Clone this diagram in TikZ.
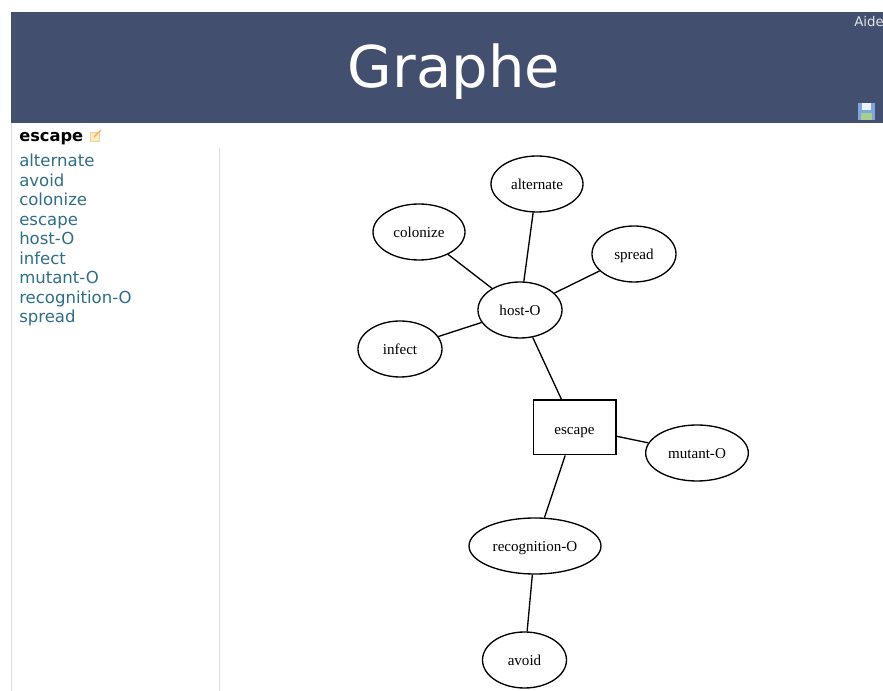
\documentclass[tikz,border=0pt]{standalone}
\usepackage{fontspec}
\setmainfont{Liberation Serif}
\newfontfamily\pagefont{DejaVu Sans}
\usetikzlibrary{shapes.geometric}
\usetikzlibrary{calc,positioning}
\definecolor{bannerblue}{HTML}{434F6E}
\definecolor{linkblue}{HTML}{2F6E8A}
\definecolor{panelgrey}{HTML}{D9DCE0}
\definecolor{diskblue}{HTML}{7FA6DC}
\definecolor{diskgreen}{HTML}{A9CF8E}
\definecolor{editorange}{HTML}{F3D48C}
\tikzset{
    wordnode/.style={draw, ellipse, line width=1pt, minimum height=42pt, inner sep=0pt, text height=11pt, text depth=2pt, font=\fontsize{11.3}{12}\selectfont},
    rootnode/.style={draw, rectangle, line width=1pt, minimum width=62pt, minimum height=41pt, inner sep=0pt, text height=13pt, text depth=2pt, font=\fontsize{11.3}{12}\selectfont},
    linknode/.style={anchor=base west, inner sep=0pt, text=linkblue, font=\pagefont\fontsize{12.4}{14}\selectfont},
    edgeline/.style={line width=1pt}
}
\begin{document}
\begin{tikzpicture}[x=0.75pt,y=-0.75pt]
        \useasboundingbox (0,0) rectangle (883,691);
        \fill[white] (0,0) rectangle (883,691);

        % banner
        \fill[bannerblue] (11,12) rectangle (883,123);
        \node[text=white, font=\pagefont\fontsize{43.2}{50}\selectfont] (title) at (454,72) {Graphe};
        \node[anchor=base west, inner sep=0pt, text=white!85!bannerblue, font=\pagefont\fontsize{10}{12}\selectfont] (help) at (854,27) {Aide};

        % save icon
        \fill[diskblue] (858,103) rectangle (875,120);
        \fill[white!85!diskblue] (862,103) rectangle (871,110);
        \fill[diskgreen] (861,113) rectangle (872,120);

        % side panel
        \draw[panelgrey] (11,123) -- (11,691);
        \draw[panelgrey] (219,148) -- (219,691);
        \node[anchor=base west, inner sep=0pt, font=\pagefont\bfseries\fontsize{12.2}{14}\selectfont] (current) at (19,142) {escape};
        \fill[editorange!45!white] (90,132) rectangle (99,141);
        \draw[editorange, line width=0.7pt] (90,132) rectangle (99,141);
        \draw[orange!70!white, line width=0.9pt] (94,137) -- (101,130);

        \node[linknode] (alternateLink) at (19,167) {alternate};
        \node[linknode] (avoidLink) at (19,186.5) {avoid};
        \node[linknode] (colonizeLink) at (19,206) {colonize};
        \node[linknode] (escapeLink) at (19,225.5) {escape};
        \node[linknode] (hostLink) at (19,245) {host-O};
        \node[linknode] (infectLink) at (19,264.5) {infect};
        \node[linknode] (mutantLink) at (19,284) {mutant-O};
        \node[linknode] (recognitionLink) at (19,303.5) {recognition-O};
        \node[linknode] (spreadLink) at (19,323) {spread};

        % graph
        \node[wordnode, minimum width=69pt] (alternate) at (537,184) {alternate};
        \node[wordnode, minimum width=69pt] (colonize) at (419,232) {colonize};
        \node[wordnode, minimum width=63pt] (spread) at (634,254) {spread};
        \node[wordnode, minimum width=63pt] (host) at (520,310) {host-O};
        \node[wordnode, minimum width=63pt] (infect) at (400,349) {infect};
        \node[rootnode] (escape) at (574.5,427.5) {escape};
        \node[wordnode, minimum width=77pt] (mutant) at (697,453) {mutant-O};
        \node[wordnode, minimum width=99pt] (recognition) at (535,546) {recognition-O};
        \node[wordnode, minimum width=63pt] (avoid) at (524.5,660) {avoid};

        \draw[edgeline] (colonize) -- (host);
        \draw[edgeline] (alternate) -- (host);
        \draw[edgeline] (spread) -- (host);
        \draw[edgeline] (infect) -- (host);
        \draw[edgeline] (host) -- (escape);
        \draw[edgeline] (escape) -- (mutant);
        \draw[edgeline] (escape) -- (recognition);
        \draw[edgeline] (recognition) -- (avoid);
    \end{tikzpicture}
\end{document}
